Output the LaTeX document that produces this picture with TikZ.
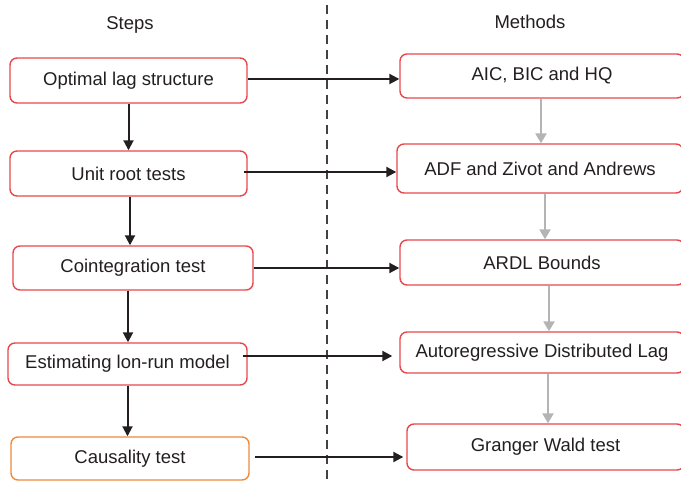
\documentclass[tikz,border=0pt]{standalone}
\usepackage{fontspec}
\setmainfont{Liberation Sans}
\usetikzlibrary{arrows.meta}
\definecolor{boxred}{HTML}{E8474C}
\definecolor{boxorange}{HTML}{EE8A3C}
\definecolor{arrgray}{HTML}{B4B4B6}
\definecolor{txt}{HTML}{231F20}
\tikzset{
  stepbox/.style={draw=boxred, line width=1.4pt, rounded corners=7pt, fill=white,
    inner sep=0pt, text=txt, font=\fontsize{18.5}{22}\selectfont},
  blackarr/.style={draw=txt, line width=2pt, -{Triangle[length=10pt,width=10pt]}},
  grayarr/.style={draw=arrgray, line width=2.4pt, -{Triangle[length=10pt,width=11pt]}},
  header/.style={text=txt, font=\fontsize{18.5}{22}\selectfont}
}
\begin{document}
\begin{tikzpicture}[x=1pt,y=-1pt]
\useasboundingbox (0,0) rectangle (681,481);
\fill[white] (0,0) rectangle (681,481);
\draw[txt!85, line width=1.2pt, dash pattern=on 9pt off 6pt] (327,5) -- (327,481);
\node[header] (hs) at (130,25) {Steps};
\node[header] (hm) at (530,22) {Methods};
% left column
\node[stepbox, minimum width=237pt, minimum height=45pt] (L1) at (128.5,80.5) {Optimal lag structure};
\node[stepbox, minimum width=237pt, minimum height=45pt] (L2) at (128.5,173.5) {Unit root tests};
\node[stepbox, minimum width=240pt, minimum height=44pt] (L3) at (133,268) {Cointegration test};
\node[stepbox, minimum width=239pt, minimum height=42pt] (L4) at (127.5,364) {Estimating lon-run model};
\node[stepbox, draw=boxorange, minimum width=238pt, minimum height=43pt] (L5) at (130,458.5) {Causality test};
% right column
\node[stepbox, minimum width=284pt, minimum height=44pt] (R1) at (542,76) {AIC, BIC and HQ};
\node[stepbox, minimum width=286pt, minimum height=49pt] (R2) at (540,168.5) {ADF and Zivot and Andrews};
\node[stepbox, minimum width=284pt, minimum height=45pt] (R3) at (542,262.5) {ARDL Bounds};
\node[stepbox, minimum width=284pt, minimum height=41pt] (R4) at (542,352.5) {Autoregressive Distributed Lag};
\node[stepbox, minimum width=277pt, minimum height=46pt] (R5) at (545.5,447) {Granger Wald test};
% vertical black arrows
\draw[blackarr] (L1.south) -- (L1.south |- L2.north);
\draw[blackarr] ([xshift=1.5pt]L2.south) -- ([xshift=1.5pt]L2.south |- L3.north);
\draw[blackarr] ([xshift=-5pt]L3.south) -- ([xshift=-5pt]L3.south |- L4.north);
\draw[blackarr] (L4.south) -- (L4.south |- L5.north);
% gray arrows
\draw[grayarr] ([xshift=-1pt]R1.south) -- ([xshift=-1pt]R1.south |- R2.north);
\draw[grayarr] ([xshift=5pt]R2.south) -- ([xshift=5pt]R2.south |- R3.north);
\draw[grayarr] ([xshift=7pt]R3.south) -- ([xshift=7pt]R3.south |- R4.north);
\draw[grayarr] ([xshift=6pt]R4.south) -- ([xshift=6pt]R4.south |- R5.north);
% horizontal arrows
\draw[blackarr] ([yshift=1.5pt]L1.east) -- ([yshift=1.5pt]L1.east -| R1.west);
\draw[blackarr, shorten <=-4pt] ([yshift=1.5pt]L2.east) -- ([yshift=1.5pt]L2.east -| R2.west);
\draw[blackarr] (L3.east) -- (L3.east -| R3.west);
\draw[blackarr, shorten <=-5pt, shorten >=7pt] ([yshift=8pt]L4.east) -- ([yshift=8pt]L4.east -| R4.west);
\draw[blackarr, shorten <=5pt, shorten >=3pt] ([yshift=1.5pt]L5.east) -- ([yshift=1.5pt]L5.east -| R5.west);
\end{tikzpicture}
\end{document}
